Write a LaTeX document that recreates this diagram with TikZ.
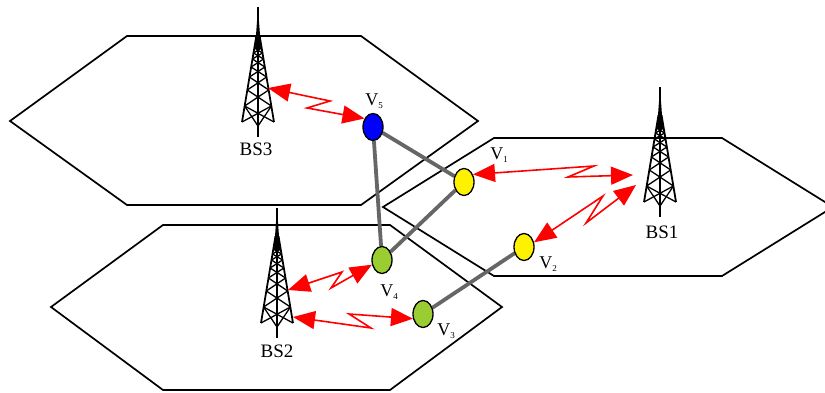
\documentclass[tikz,border=0pt]{standalone}
\usepackage{fontspec}
\setmainfont{Liberation Serif}
\usetikzlibrary{arrows.meta,shapes.geometric}
\pgfdeclarelayer{cells}
\pgfdeclarelayer{hops}
\pgfsetlayers{cells,hops,main}
\tikzset{
  cell/.style={draw=black,line width=1.7pt,line join=miter},
  hop/.style={draw=black!60,line width=3.8pt},
  ue/.style={draw=black,line width=1.3pt,ellipse,minimum width=20pt,minimum height=27pt,inner sep=0pt},
  radio/.style={draw=red,line width=1.6pt,line join=miter,{Triangle[length=22pt,width=18pt]}-{Triangle[length=22pt,width=18pt]}},
  bslabel/.style={font=\fontsize{19}{19}\selectfont,inner sep=0pt},
  vlabel/.style={font=\fontsize{18}{18}\selectfont,inner sep=0pt}
}
\definecolor{uegreen}{RGB}{154,205,50}
\newcommand{\vname}[1]{V\raisebox{-3pt}{\fontsize{9}{9}\selectfont #1}}
\newcommand{\drawtower}[2]{%
  \begin{scope}[shift={(#1,#2)},draw=black,line cap=butt]
    \draw[line width=1.6pt] (0,0) -- (0,130);
    \fill[black] (-0.9,13) -- (0.9,13) -- (3,42) -- (-3,42) -- cycle;
    \draw[line width=1.8pt] (-1.5,28) -- (-16,115);
    \draw[line width=1.8pt] (1.5,28) -- (16,115);
    \foreach \ya/\wa/\yb/\wb in {115/16/99/13.4,99/13.4/83/10.7,83/10.7/70/8.6,70/8.6/60/6.9,60/6.9/52/5.6,52/5.6/46/4.5,46/4.5/41/3.6,41/3.6/37/3}{
      \draw[line width=1.3pt] (-\wa,\ya) -- (\wb,\yb);
      \draw[line width=1.3pt] (\wa,\ya) -- (-\wb,\yb);
    }
    \draw[line width=1.3pt] (-13.4,99) -- (0,119) -- (13.4,99);
  \end{scope}
}
\begin{document}
\begin{tikzpicture}[x=1pt,y=-1pt]
\useasboundingbox (0,0) rectangle (825,393);
\clip (0,0) rectangle (825,393);
% cells
\begin{pgfonlayer}{cells}
\fill[white] (0,0) rectangle (825,393);
\draw[cell] (10,121) -- (127,36) -- (361,36) -- (478,121) -- (361,205) -- (127,205) -- cycle;
\draw[cell] (51,307) -- (163,225) -- (390,225) -- (502,307) -- (390,390) -- (163,390) -- cycle;
\draw[cell] (383,207) -- (494,138) -- (722,138) -- (833,207) -- (722,276) -- (494,276) -- cycle;
\end{pgfonlayer}
% towers
\drawtower{258}{7}
\drawtower{277}{208}
\drawtower{660}{87}
% UE nodes
\node[ue,fill=blue] (v5) at (373,127) {};
\node[ue,fill=yellow] (v1) at (464,182) {};
\node[ue,fill=yellow] (v2) at (524,247) {};
\node[ue,fill=uegreen] (v4) at (382,260) {};
\node[ue,fill=uegreen] (v3) at (423,314) {};
% backhaul
\begin{pgfonlayer}{hops}
\draw[hop] (v5) -- (v1);
\draw[hop] (v5) -- (v4);
\draw[hop] (v1) -- (v4);
\draw[hop] (v2) -- (v3);
\end{pgfonlayer}
% tower side ends
\coordinate (a3) at (268,88);
\coordinate (a2u) at (288,290);
\coordinate (a2l) at (293,317);
\coordinate (a1u) at (633,175);
\coordinate (a1l) at (636,185);
% radio links
\draw[radio] (a3) -- (330,101) -- (307,108) -- (v5.135);
\draw[radio] (a2u) -- (342,272) -- (331,288) -- (v4.205);
\draw[radio] (a2l) -- (371,328) -- (349,314) -- (v3.205);
\draw[radio] (v1.40) -- (594,166) -- (568,177) -- (a1u);
\draw[radio] (v2.25) -- (603,196) -- (586,223) -- (a1l);
% labels
\node[bslabel] (l3) at (256,149) {BS3};
\node[bslabel] (l2) at (277,351) {BS2};
\node[bslabel] (l1) at (662,232) {BS1};
\node[vlabel] (n5) at (374,101) {\vname{5}};
\node[vlabel] (n1) at (499,155) {\vname{1}};
\node[vlabel] (n2) at (548,264) {\vname{2}};
\node[vlabel] (n4) at (389,292) {\vname{4}};
\node[vlabel] (n3) at (446,331) {\vname{3}};
\end{tikzpicture}
\end{document}
